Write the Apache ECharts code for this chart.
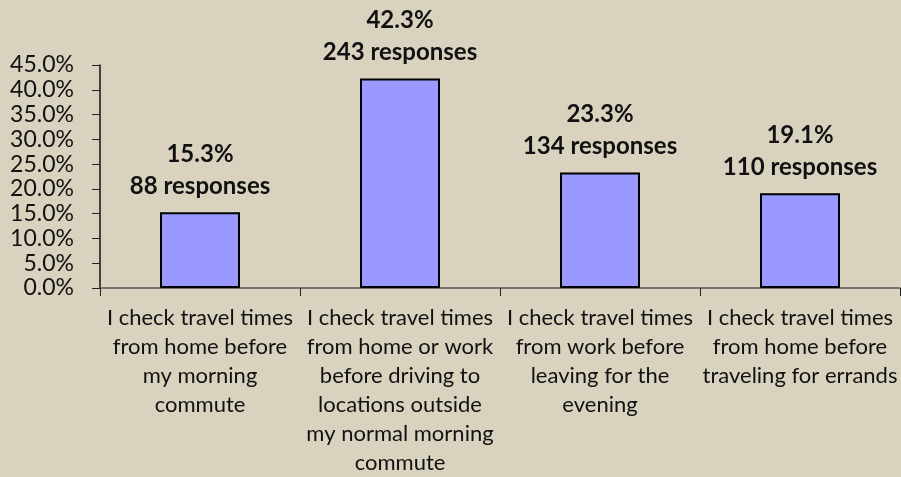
<!DOCTYPE html>
<html>
<head>
<meta charset="utf-8">
<script src="https://cdn.jsdelivr.net/npm/echarts@6/dist/echarts.min.js"></script>
<style>
  html, body { margin: 0; padding: 0; background: #D8D2BE; }
  #chart { width: 901px; height: 477px; }
</style>
</head>
<body>
<div id="chart"></div>
<script>
// Survey answers: when do you check travel times?
const categories = [
  'I check travel times\nfrom home before\nmy morning\ncommute',
  'I check travel times\nfrom home or work\nbefore driving to\nlocations outside\nmy normal morning\ncommute',
  'I check travel times\nfrom work before\nleaving for the\nevening',
  'I check travel times\nfrom home before\ntraveling for errands'
];
const percents = [15.3, 42.3, 23.3, 19.1];
const responses = [88, 243, 134, 110];

const yMin = 0;
const yMax = 45;
const yStep = 5;

const FONT = 'Lato';

const chart = echarts.init(document.getElementById('chart'), null, { renderer: 'canvas' });
chart.setOption({
  backgroundColor: '#D8D2BE',
  animation: false,
  grid: { left: 100, right: 1, top: 65, bottom: 189, containLabel: false },
  xAxis: {
    type: 'category',
    data: categories,
    axisLine: { show: true, lineStyle: { color: '#555555', width: 1.5 } },
    axisTick: { show: true, length: 8, alignWithLabel: false, lineStyle: { color: '#222222', width: 1 } },
    axisLabel: {
      interval: 0,
      margin: 15,
      color: '#111111',
      fontFamily: FONT,
      fontSize: 22,
      lineHeight: 29,
      align: 'center'
    },
    splitLine: { show: false }
  },
  yAxis: {
    type: 'value',
    min: yMin,
    max: yMax,
    interval: yStep,
    axisLine: { show: true, lineStyle: { color: '#111111', width: 1.5 } },
    axisTick: { show: true, length: 8, lineStyle: { color: '#222222', width: 1 } },
    axisLabel: {
      margin: 26,
      color: '#111111',
      fontFamily: FONT,
      fontSize: 23,
      formatter: v => v.toFixed(1) + '%'
    },
    splitLine: { show: false }
  },
  series: [{
    type: 'bar',
    data: percents,
    barCategoryGap: '60%',
    itemStyle: { color: '#9999FF', borderColor: '#000000', borderWidth: 2 },
    label: {
      show: true,
      position: 'top',
      distance: 10,
      color: '#111111',
      fontFamily: FONT,
      fontSize: 24,
      fontWeight: 'bold',
      lineHeight: 32,
      align: 'center',
      formatter: p => percents[p.dataIndex].toFixed(1) + '%\n' + responses[p.dataIndex] + ' responses'
    }
  }]
});
</script>
</body>
</html>
